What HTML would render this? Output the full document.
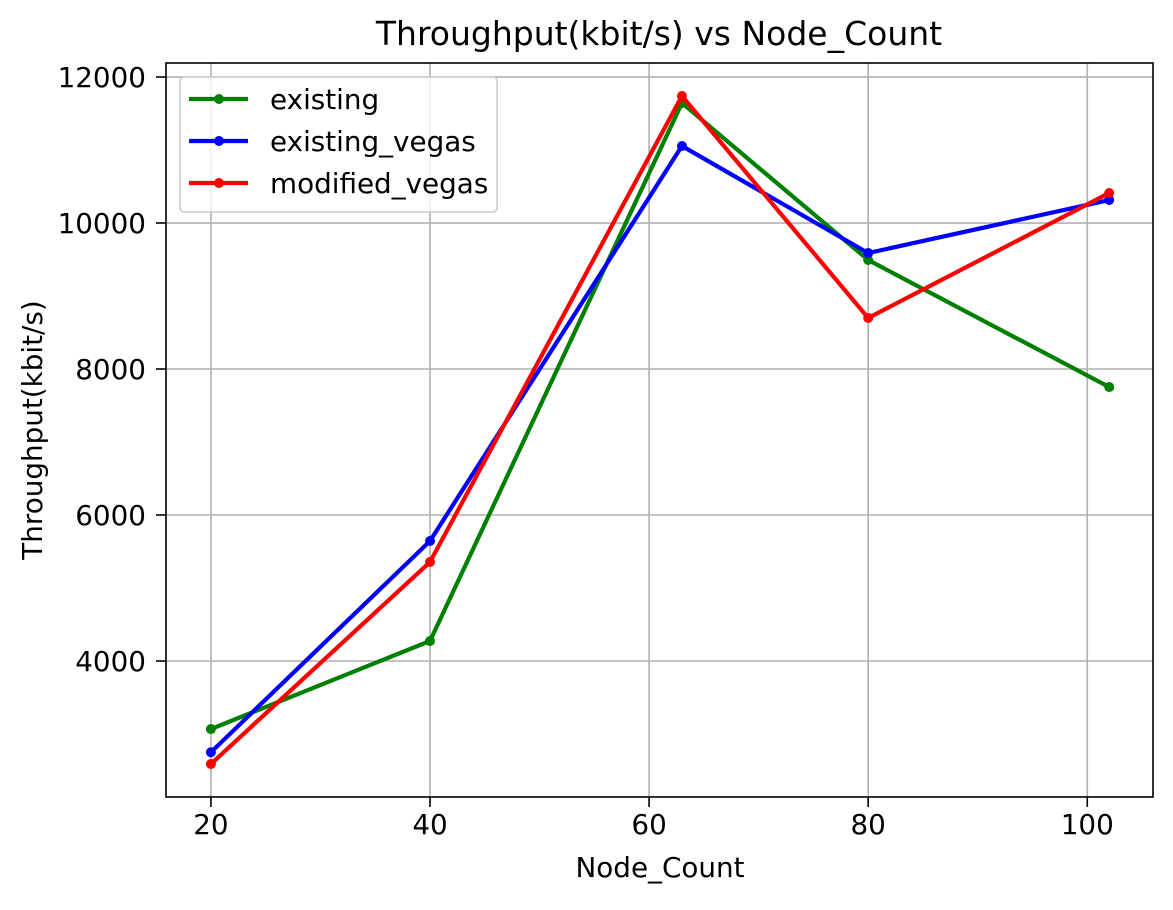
<!DOCTYPE html>
<html><head><meta charset="utf-8"><style>
body{margin:0;background:#fff;}
svg text{font-family:"DejaVu Sans","Liberation Sans",sans-serif;fill:#000;}
</style></head><body>
<svg id="chart" width="1173" height="905" xmlns="http://www.w3.org/2000/svg">
<rect width="1173" height="905" fill="#fff"/>
<g id="grid"></g>
<g id="series"></g>
<rect x="166" y="63" width="987" height="734" fill="none" stroke="#000" stroke-width="1.6"/>
<g id="ticks"></g>
<text x="659" y="45" font-size="33" text-anchor="middle">Throughput(kbit/s) vs Node_Count</text>
<text x="660" y="877" font-size="27.8" text-anchor="middle">Node_Count</text>
<text x="42" y="430" font-size="27.8" text-anchor="middle" transform="rotate(-90 42 430)">Throughput(kbit/s)</text>
<g>
<rect x="180" y="77" width="317" height="135" rx="4" fill="#fff" fill-opacity="0.8" stroke="#ccc" stroke-width="1.6"/>
<g id="legend-items"></g>
</g>
</svg>
<script>
const categories=[20,40,63,80,102];
const seriesNames=["existing","existing_vegas","modified_vegas"];
const seriesColors=["#008000","#0000ff","#ff0000"];
const existing=[3068,4274,11644,9493,7753];
const existingVegas=[2750,5644,11055,9589,10315];
const modifiedVegas=[2589,5356,11740,8699,10411];
const xTicks=[20,40,60,80,100];
const yTicks=[4000,6000,8000,10000,12000];
const allSeries=[existing,existingVegas,modifiedVegas];
const X0=166,X1=1153,Y0=797,Y1=63;
const xMin=15.9,xMax=106.0,yMin=2137,yMax=12192;
const xs=v=>X0+(v-xMin)/(xMax-xMin)*(X1-X0);
const ys=v=>Y0-(v-yMin)/(yMax-yMin)*(Y0-Y1);
const NS="http://www.w3.org/2000/svg";
function mk(tag,attrs,parent){const e=document.createElementNS(NS,tag);for(const k in attrs)e.setAttribute(k,attrs[k]);parent.appendChild(e);return e;}
const grid=document.getElementById('grid'),ticks=document.getElementById('ticks'),ser=document.getElementById('series'),leg=document.getElementById('legend-items');
xTicks.forEach(t=>{const x=xs(t);
const g=mk('line',{x1:x,x2:x,y1:Y1,y2:Y0,stroke:'#b0b0b0','stroke-width':1.6},grid);


mk('line',{x1:x,x2:x,y1:Y0,y2:Y0+10,stroke:'#000','stroke-width':1.6},ticks);
const tx=mk('text',{x:x,y:Y0+37,'font-size':27.8,'text-anchor':'middle'},ticks);tx.textContent=t;

});
yTicks.forEach(t=>{const y=ys(t);
const g=mk('line',{x1:X0,x2:X1,y1:y,y2:y,stroke:'#b0b0b0','stroke-width':1.6},grid);


mk('line',{x1:X0-10,x2:X0,y1:y,y2:y,stroke:'#000','stroke-width':1.6},ticks);
const tx=mk('text',{x:X0-20,y:y+10,'font-size':27.8,'text-anchor':'end'},ticks);tx.textContent=t;

});
allSeries.forEach((s,i)=>{
const pts=s.map((v,j)=>xs(categories[j])+','+ys(v)).join(' ');
const pl=mk('polyline',{points:pts,fill:'none',stroke:seriesColors[i],'stroke-width':4.2},ser);


s.forEach((v,j)=>{const c=mk('circle',{cx:xs(categories[j]),cy:ys(v),r:5,fill:seriesColors[i]},ser);

});
const ly=99+i*42;
mk('line',{x1:189,x2:248,y1:ly,y2:ly,stroke:seriesColors[i],'stroke-width':4.2},leg);
mk('circle',{cx:219,cy:ly,r:5,fill:seriesColors[i]},leg);
const lt=mk('text',{x:270,y:ly+10,'font-size':27.8},leg);lt.textContent=seriesNames[i];


});
</script>
</body></html>
